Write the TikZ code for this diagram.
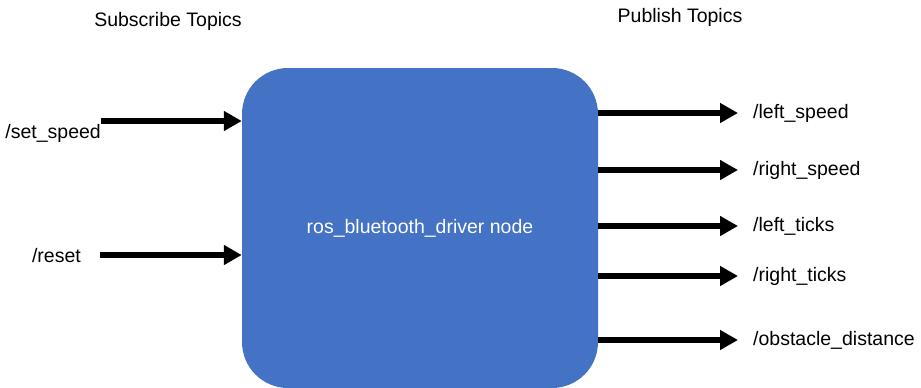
\documentclass[tikz,border=0pt]{standalone}
\usepackage{fontspec}
\setmainfont{Liberation Sans}
\usepackage{tikz}
\usetikzlibrary{arrows.meta, positioning}
\definecolor{boxblue}{HTML}{4472C4}

\begin{document}
\begin{tikzpicture}[
        x=1pt, y=-1pt,
        every node/.style={font=\fontsize{19.5}{23}\selectfont},
        driver/.style={rectangle, rounded corners=46pt, fill=boxblue, text=white,
            minimum width=356pt, minimum height=320pt},
        topic/.style={inner sep=0pt},
        arr/.style={line width=5.5pt, -{Triangle[length=18pt, width=19pt]}}
    ]
        \useasboundingbox (0,0) rectangle (921,388);
        \clip (0,0) rectangle (921,388);

        % headings
        \node[topic] (subhead) at (168,21) {Subscribe Topics};
        \node[topic] (pubhead) at (680,17) {Publish Topics};

        % driver node
        \node[driver] (drv) at (420,228) {ros\_bluetooth\_driver node};

        % subscribed topics
        \node[topic, anchor=east] (set_speed) at (101,133) {/set\_speed};
        \node[topic, anchor=east] (reset) at (81,256) {/reset};
        \coordinate (set_in) at (101,121);
        \coordinate (reset_in) at (100,255);
        \draw[arr] (set_in) -- (drv.west |- set_in);
        \draw[arr] (reset_in) -- (drv.west |- reset_in);

        % published topics
        \foreach \nm/\y in {left_speed/113, right_speed/170, left_ticks/226, right_ticks/276, obstacle_distance/340} {
            \node[topic, anchor=west] (\nm) at (753,\y) {/\detokenize\expandafter{\nm}};
            \draw[arr, shorten >=15pt] (drv.east |- \nm.west) -- (\nm.west);
        }
    \end{tikzpicture}
\end{document}
